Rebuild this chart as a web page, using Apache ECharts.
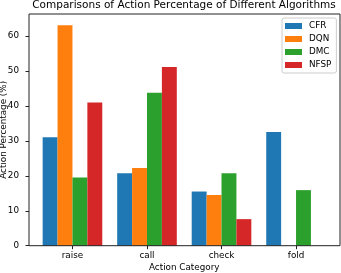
<!DOCTYPE html>
<html><head><meta charset="utf-8">
<script src="https://cdn.jsdelivr.net/npm/echarts@6/dist/echarts.min.js"></script>
<style>html,body{margin:0;padding:0;background:#fff}#c{width:341px;height:273px}</style>
</head><body><div id="c"></div>
<script>
const categories = ['raise', 'call', 'check', 'fold'];
const seriesNames = ['CFR', 'DQN', 'DMC', 'NFSP'];
const cfr = [31.0, 20.7, 15.5, 32.5];
const dqn = [63.1, 22.2, 14.5, 0];
const dmc = [19.5, 43.8, 20.7, 15.9];
const nfsp = [41.0, 51.1, 7.6, 0];
const yTicks = [0, 10, 20, 30, 40, 50, 60];
const colors = ['#1f77b4', '#ff7f0e', '#2ca02c', '#d62728'];
const values = [cfr, dqn, dmc, nfsp];

const FONT = 'DejaVu Sans';
const FS = 8.8;
const YMAX = 66.3;
const chart = echarts.init(document.getElementById('c'), null, {renderer: 'canvas'});
chart.setOption({
  animation: false,
  textStyle: {fontFamily: FONT},
  title: {
    text: 'Comparisons of Action Percentage of Different Algorithms',
    left: 184, top: 0, textAlign: 'center', padding: 0,
    textStyle: {fontFamily: FONT, fontSize: 10.5, fontWeight: 'normal', color: '#000'}
  },
  legend: {
    orient: 'vertical', left: 282, top: 18,
    padding: [3, 5, 3, 3],
    itemWidth: 17, itemHeight: 6, itemGap: 3,
    icon: 'rect',
    backgroundColor: '#fff', borderColor: '#ccc', borderWidth: 1, borderRadius: 2,
    textStyle: {fontFamily: FONT, fontSize: FS, color: '#000', lineHeight: 10, padding: [0, 0, 0, 2]},
    data: seriesNames
  },
  grid: [
    {left: 35.2, width: 298.1, top: 14, bottom: 27.3, containLabel: false, outerBoundsMode: 'none'},
    {left: 29, right: 1, top: 14, bottom: 27.3, show: true, borderColor: '#222', borderWidth: 1, z: 5,
     backgroundColor: 'transparent', containLabel: false, outerBoundsMode: 'none'}
  ],
  xAxis: [
    {type: 'category', gridIndex: 0, data: categories,
     axisLine: {show: false},
     axisTick: {show: true, alignWithLabel: true, length: 3.5, lineStyle: {color: '#222'}},
     axisLabel: {fontFamily: FONT, fontSize: FS, color: '#000', margin: 6},
     name: 'Action Category', nameLocation: 'middle', nameGap: 17.5, nameMoveOverlap: false,
     nameTextStyle: {fontFamily: FONT, fontSize: FS, color: '#000'}},
    {type: 'value', gridIndex: 1, min: 0, max: 1, show: false}
  ],
  yAxis: [
    {type: 'value', gridIndex: 0, min: 0, max: YMAX, show: false, splitLine: {show: false}},
    {type: 'value', gridIndex: 1, min: 0, max: YMAX, interval: 10,
     axisLine: {show: false},
     axisTick: {show: true, length: 3.5, lineStyle: {color: '#222'}},
     axisLabel: {fontFamily: FONT, fontSize: FS, color: '#000', margin: 10, showMaxLabel: false,
       formatter: v => yTicks.includes(v) ? String(v) : ''},
     splitLine: {show: false},
     name: 'Action Percentage (%)', nameLocation: 'middle', nameGap: 20.5, nameRotate: 90, nameMoveOverlap: false,
     nameTextStyle: {fontFamily: FONT, fontSize: FS, color: '#000'}}
  ],
  series: seriesNames.map((n, i) => ({
    name: n, type: 'bar', xAxisIndex: 0, yAxisIndex: 0,
    data: values[i], barGap: '0%', barCategoryGap: '20%',
    itemStyle: {color: colors[i]}
  }))
});
</script></body></html>
